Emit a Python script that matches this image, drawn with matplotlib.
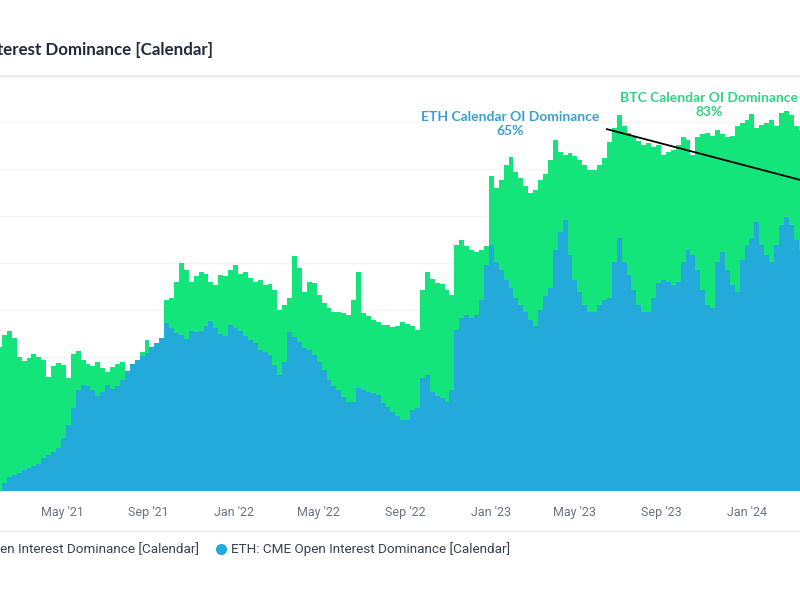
import numpy as np
import pandas as pd
import matplotlib
matplotlib.use("Agg")
import matplotlib.pyplot as plt
import matplotlib.dates as mdates
from matplotlib.lines import Line2D

# ---------------- data (weekly, % of CME open interest in calendar spreads) ----------------
start_date = "2021-02-01"
btc_dominance = [
    32.1, 34.7, 35.5, 34.0, 30.0, 29.1, 29.8, 30.6, 30.0, 29.4,
    25.7, 28.1, 28.7, 28.3, 25.5, 30.6, 31.3, 29.4, 28.5, 28.1,
    28.9, 27.7, 26.8, 27.9, 28.5, 28.9, 25.5, 27.7, 28.5, 31.1,
    33.6, 31.5, 31.1, 32.3, 42.1, 42.6, 46.0, 50.0, 48.5, 46.0,
    47.2, 48.1, 47.7, 46.0, 45.3, 47.4, 47.2, 48.5, 49.6, 47.7,
    48.1, 46.8, 46.0, 46.4, 45.3, 45.5, 44.3, 40.0, 41.1, 42.6,
    51.5, 48.9, 43.8, 46.0, 45.7, 43.2, 41.5, 40.4, 39.6, 39.6,
    39.4, 38.9, 42.1, 48.1, 39.4, 38.7, 37.9, 37.4, 36.8, 36.8,
    36.4, 36.6, 37.4, 37.0, 36.6, 35.7, 44.3, 48.1, 46.6, 45.7,
    45.5, 44.3, 43.2, 53.8, 54.9, 53.6, 52.8, 52.3, 52.8, 53.6,
    68.5, 66.0, 67.7, 70.9, 72.6, 69.4, 68.1, 66.4, 64.9, 65.5,
    67.7, 68.9, 71.9, 76.2, 73.6, 73.0, 73.4, 72.8, 71.9, 70.9,
    69.8, 69.8, 70.9, 72.3, 75.7, 78.7, 81.5, 79.1, 77.7, 76.8,
    76.0, 75.1, 75.5, 74.7, 75.1, 73.0, 73.6, 74.0, 75.1, 76.8,
    76.2, 73.0, 76.8, 77.4, 77.7, 77.0, 78.3, 77.4, 76.8, 77.0,
    79.1, 79.8, 80.4, 81.7, 78.7, 79.4, 79.8, 80.4, 79.1, 81.9,
    82.3, 81.5, 79.1, 78.3,
]
eth_dominance = [
    0.0, 3.2, 4.5, 4.9, 5.3, 6.0, 6.4, 6.8, 7.2, 8.5,
    9.1, 9.8, 10.6, 12.8, 15.5, 19.1, 23.0, 24.0, 23.8, 23.0,
    21.7, 22.6, 24.0, 23.2, 23.8, 25.1, 27.0, 28.5, 29.4, 30.2,
    30.9, 32.1, 33.0, 34.0, 37.2, 36.2, 35.1, 34.7, 33.8, 35.5,
    35.3, 35.5, 36.6, 37.7, 36.2, 34.9, 34.5, 36.8, 36.2, 35.5,
    34.5, 33.6, 33.0, 31.5, 31.1, 30.4, 28.3, 26.2, 28.9, 35.3,
    34.3, 33.2, 31.9, 31.5, 30.4, 28.9, 27.2, 25.1, 23.8, 23.0,
    21.5, 20.4, 20.4, 23.4, 23.0, 22.6, 22.3, 21.9, 20.2, 19.4,
    18.3, 17.4, 16.6, 16.6, 18.7, 19.1, 25.5, 26.2, 22.6, 21.7,
    21.3, 20.4, 23.0, 35.7, 38.3, 38.9, 38.3, 38.9, 42.1, 49.6,
    53.8, 50.2, 48.5, 46.4, 44.7, 42.6, 41.1, 39.6, 37.9, 36.6,
    40.0, 43.0, 44.7, 52.8, 56.6, 59.1, 51.7, 46.4, 43.8, 41.1,
    39.6, 39.6, 41.1, 42.1, 42.6, 50.2, 55.3, 50.2, 47.4, 44.3,
    41.1, 39.6, 39.6, 42.6, 45.7, 46.4, 46.0, 45.3, 46.0, 50.2,
    52.8, 51.7, 48.5, 44.3, 41.1, 40.4, 50.2, 52.3, 48.5, 45.3,
    43.8, 50.6, 53.8, 55.3, 58.7, 53.8, 51.7, 50.2, 53.8, 58.1,
    59.8, 58.1, 54.9, 52.8,
]
tick_months = ["2021-05-01", "2021-09-01", "2022-01-01", "2022-05-01", "2022-09-01",
               "2023-01-01", "2023-05-01", "2023-09-01", "2024-01-01"]
latest_date = "2024-05-24"
btc_latest = 83
eth_latest = 65

title_text = "BTC & ETH: CME Open Interest Dominance [Calendar]"
btc_name = "BTC: CME Open Interest Dominance [Calendar]"
eth_name = "ETH: CME Open Interest Dominance [Calendar]"

# ---------------- style ----------------
GREEN = "#13E57A"
BLUE = "#24A9DB"
GREEN_TXT = "#2FD382"
BLUE_TXT = "#3A9FD3"
plt.rcParams["font.family"] = ["Roboto", "DejaVu Sans"]

dates = pd.date_range(start_date, periods=len(btc_dominance), freq="7D")

W, H = 800, 600
fig = plt.figure(figsize=(8, 6), dpi=100)
fig.patch.set_facecolor("white")

# axes: bottom at y=491px, top ~72.6px, spans full width
ax = fig.add_axes([0.0, 1 - 491 / H, 1.0, (491 - 72.65) / H])
ax.set_facecolor("white")

ax.bar(dates, btc_dominance, width=7, color=GREEN, linewidth=0, zorder=2)
ax.bar(dates, eth_dominance, width=7, color=BLUE, linewidth=0, zorder=3)

x0 = pd.Timestamp("2021-05-01") - pd.Timedelta(days=62 / 0.7026)
x1 = pd.Timestamp("2021-05-01") + pd.Timedelta(days=738 / 0.7026)
ax.set_xlim(x0, x1)
ax.set_ylim(1.5, 90.5)

ax.set_yticks(np.arange(10, 91, 10))
ax.yaxis.grid(True, color="#f3f4f6", linewidth=1.0, zorder=0)
ax.set_axisbelow(True)
ax.tick_params(axis="y", left=False, labelleft=False)
ax.set_xticks(pd.to_datetime(tick_months))
ax.xaxis.set_major_formatter(mdates.DateFormatter("%b '%y"))
ax.tick_params(axis="x", length=0, pad=11, labelsize=9, labelcolor="#6b7280")
for s in ax.spines.values():
    s.set_visible(False)

# annotations
ax.annotate("ETH Calendar OI Dominance\n" + f"{eth_latest}%",
            xy=(pd.Timestamp(latest_date), eth_latest), xycoords="data",
            xytext=(510, H - 124), textcoords="figure pixels",
            ha="center", va="center", fontsize=10, fontweight="bold",
            color=BLUE_TXT, linespacing=1.2, family=["Lato", "DejaVu Sans"],
            bbox=dict(boxstyle="square,pad=0.15", fc="white", ec="none"),
            arrowprops=dict(arrowstyle="-", color="black", lw=1.3,
                            relpos=(1.0, 0.38), shrinkA=4, shrinkB=0),
            annotation_clip=False, zorder=6)
ax.annotate("BTC Calendar OI Dominance\n" + f"{btc_latest}%",
            xy=(709, H - 105), xycoords="figure pixels",
            ha="center", va="center", fontsize=10, fontweight="bold",
            color=GREEN_TXT, linespacing=1.2, family=["Lato", "DejaVu Sans"],
            annotation_clip=False, zorder=6)

# title and separators
fig.text(213 / W, 1 - 50 / H, title_text, ha="right", va="center",
         fontsize=12.2, fontweight="bold", color="#1f2a3a",
         family=["Lato", "DejaVu Sans"])
fig.add_artist(Line2D([0, 1], [1 - 75.5 / H] * 2, color="#e8e9ec", lw=1.0))
fig.add_artist(Line2D([0, 1], [1 - 531 / H] * 2, color="#e8e9ec", lw=1.0))

# legend (custom row)
ly = 1 - 549 / H
fig.text(199 / W, ly, btc_name, ha="right", va="center", fontsize=9.7, color="#374151")
fig.add_artist(Line2D([-100 / W], [ly], marker="o", color=GREEN, markersize=7,
                      linestyle="none"))
fig.add_artist(Line2D([221 / W], [ly], marker="o", color=BLUE, markersize=7,
                      linestyle="none"))
fig.text(231 / W, ly, eth_name, ha="left", va="center", fontsize=9.7, color="#374151")

fig.savefig("out.png", dpi=100, facecolor="white")
